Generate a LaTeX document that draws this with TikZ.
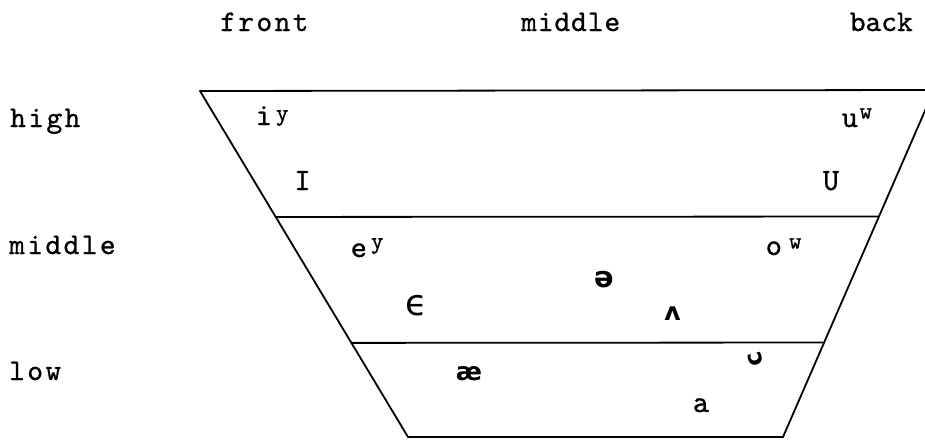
\documentclass[tikz,border=0pt]{standalone}
\usepackage{fontspec}
\usetikzlibrary{calc}
\newfontfamily\labfont[LetterSpace=8,FakeBold=0.8]{lmmono10-regular.otf}
\newfontfamily\labfontn[LetterSpace=3,FakeBold=0.8]{lmmono10-regular.otf}
\newfontfamily\labfontt[LetterSpace=0,FakeBold=0.8]{lmmono10-regular.otf}
\newfontfamily\vowfont[FakeBold=0.8]{lmmono10-regular.otf}
\newfontfamily\ipafont{DejaVu Sans}
\newcommand{\lab}{\labfont\fontsize{30}{30}\selectfont}
\newcommand{\labn}{\labfontn\fontsize{30}{30}\selectfont}
\newcommand{\labt}{\labfontt\fontsize{30}{30}\selectfont}
\newcommand{\vow}{\vowfont\fontsize{31}{31}\selectfont}
\newcommand{\supf}{\vowfont\fontsize{24}{24}\selectfont}
\newcommand{\ipa}[1]{\ipafont\fontsize{#1}{#1}\selectfont}
\tikzset{
  lbl/.style={inner sep=0pt, anchor=base west, font=\lab},
  vw/.style={inner sep=0pt, anchor=base, font=\vow},
  vws/.style={inner sep=0pt, anchor=base west, font=\vow},
  edge/.style={line width=1.8pt, line cap=round},
}
\begin{document}
\begin{tikzpicture}[x=1pt,y=-1pt]
\useasboundingbox (0,0) rectangle (925,439);
\fill[white] (0,0) rectangle (925,439);
\begin{scope}
\clip (0,0) rectangle (925,439);
% corners
\coordinate (TL) at (200,91);
\coordinate (TR) at (934,90);
\coordinate (BL) at (408,437);
\coordinate (BR) at (783,437);
\coordinate (ML) at ($(TL)!0.364!(BL)$);
\coordinate (MR) at ($(TR)!0.3646!(BR)$);
\coordinate (LL) at ($(TL)!0.728!(BL)$);
\coordinate (LR) at ($(TR)!0.7277!(BR)$);
\draw[edge] (TL) -- (TR);
\draw[edge] (TL) -- (BL) -- (BR) -- (TR);
\draw[edge] (ML) -- (MR);
\draw[edge] (LL) -- (LR);
\end{scope}
% column labels
\node[lbl] (front) at (220,31) {front};
\node[lbl, font=\labn] (mid) at (521,31) {middle};
\node[inner sep=0pt, anchor=base east, font=\labt] (back) at (913,31) {back};
% row labels
\node[lbl] (high) at (10,127) {high};
\node[lbl] (midrow) at (9,254) {middle};
\node[lbl] (low) at (9,380) {low};
% vowels
\node[vws] (iy) at (255.5,125) {i\hspace{4pt}\raisebox{4.5pt}{\supf y}};
\node[vws] (uw) at (841.5,127) {u\hspace{1.5pt}\raisebox{8.4pt}{\supf w}};
\node[vw] (I) at (302.5,190) {I};
\node[vw] (U) at (831,190) {U};
\node[vws] (ey) at (350.5,257) {e\hspace{4pt}\raisebox{8.5pt}{\supf y}};
\node[vws] (ow) at (765.5,255) {o\hspace{7pt}\raisebox{6.4pt}{\supf w}};
\node[inner sep=0pt, anchor=base, font={\ipa{29}\bfseries}] (schwa) at (604,287) {ə};
\node[inner sep=0pt, anchor=base, font={\ipa{36}}] (eps) at (416.5,315) {ϵ};
\node[inner sep=0pt, anchor=base, font={\ipa{25}\bfseries}] (wedge) at (672.5,320) {ʌ};
\node[inner sep=0pt, anchor=base, font={\ipa{25}\bfseries}] (ae) at (469,380) {æ};
\node[inner sep=0pt, anchor=center, rotate=-75, font={\ipa{24}\bfseries}] (oo) at (755.5,359.5) {ɔ};
\node[vw] (a) at (701,412) {a};
\end{tikzpicture}
\end{document}
